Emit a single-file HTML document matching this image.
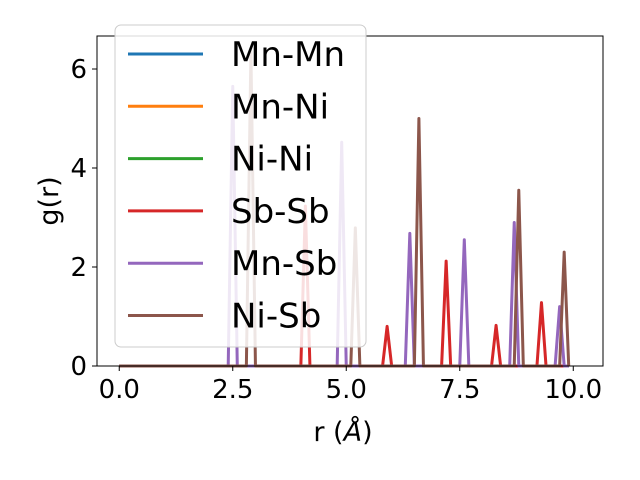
<!DOCTYPE html>
<html><head><meta charset="utf-8"><style>
body{margin:0;background:#fff}
svg{display:block;font-family:"DejaVu Sans","Liberation Sans",sans-serif}
</style></head><body>
<svg id="chart" width="640" height="480" viewBox="0 0 640 480">
<rect x="0" y="0" width="640" height="480" fill="#fff"/>
<g id="plot"></g>
<g id="axes"></g>
<g id="legend"></g>
</svg>
<script>
const seriesNames = ["Mn-Mn","Mn-Ni","Ni-Ni","Sb-Sb","Mn-Sb","Ni-Sb"];
const seriesColors = ["#1f77b4","#ff7f0e","#2ca02c","#d62728","#9467bd","#8c564b"];
const peakR_MnMn = [], peakG_MnMn = [];
const peakR_MnNi = [], peakG_MnNi = [];
const peakR_NiNi = [], peakG_NiNi = [];
const peakR_SbSb = [4.1, 5.9, 7.2, 8.3, 9.3];
const peakG_SbSb = [3.23, 0.8, 2.12, 0.82, 1.28];
const peakR_MnSb = [2.5, 4.9, 6.4, 7.6, 8.7, 9.7];
const peakG_MnSb = [5.65, 4.52, 2.68, 2.55, 2.9, 1.2];
const peakR_NiSb = [2.9, 5.2, 6.6, 8.8, 9.8];
const peakG_NiSb = [6.35, 2.79, 5.0, 3.55, 2.3];
const xTicks = [0, 2.5, 5, 7.5, 10];
const xTickLabels = ["0.0","2.5","5.0","7.5","10.0"];
const yTicks = [0, 2, 4, 6];
const yTickLabels = ["0","2","4","6"];
const rMax = 9.9, rStep = 0.1;

const NS = "http://www.w3.org/2000/svg";
const L = 97, R = 603, T = 36, B = 366;
const xMin = -0.49, xMax = 10.655, yMin = 0, yMax = 6.667;
const xs = v => L + (v - xMin) / (xMax - xMin) * (R - L);
const ys = v => B - (v - yMin) / (yMax - yMin) * (B - T);
function mk(tag, attrs, parent){const e=document.createElementNS(NS,tag);for(const k in attrs)e.setAttribute(k,attrs[k]);parent.appendChild(e);return e;}

const peaks = [[peakR_MnMn,peakG_MnMn],[peakR_MnNi,peakG_MnNi],[peakR_NiNi,peakG_NiNi],[peakR_SbSb,peakG_SbSb],[peakR_MnSb,peakG_MnSb],[peakR_NiSb,peakG_NiSb]];
const plot = document.getElementById('plot');
const n = Math.round(rMax / rStep);
peaks.forEach((p, si) => {
  const pts = [];
  for (let i = 0; i <= n; i++) {
    const r = i * rStep;
    let g = 0;
    p[0].forEach((pr, k) => { if (Math.abs(pr - r) < rStep / 2) g = p[1][k]; });
    pts.push(xs(r).toFixed(2) + "," + ys(g).toFixed(2));
  }
  const pl = mk('polyline', {points: pts.join(" "), fill: "none", stroke: seriesColors[si], "stroke-width": 3, "stroke-linejoin": "round"}, plot);
  
  
});

const axes = document.getElementById('axes');
const frame = mk('rect', {x: L, y: T, width: R - L, height: B - T, fill: "none", stroke: "#000", "stroke-width": 1}, axes);


xTicks.forEach((v, i) => {
  const t = mk('line', {x1: xs(v), x2: xs(v), y1: B, y2: B + 5, stroke: "#000"}, axes);
  
  
  const tx = mk('text', {x: xs(v), y: B + 32, "font-size": 26, "text-anchor": "middle"}, axes);
  tx.textContent = xTickLabels[i];
  
  
});
yTicks.forEach((v, i) => {
  const t = mk('line', {x1: L - 5, x2: L, y1: ys(v), y2: ys(v), stroke: "#000"}, axes);
  
  
  const tx = mk('text', {x: L - 10, y: ys(v) + 9, "font-size": 26, "text-anchor": "end"}, axes);
  tx.textContent = yTickLabels[i];
  
  
});
const xl = mk('text', {x: 343, y: 441, "font-size": 27, "text-anchor": "middle"}, axes);
xl.innerHTML = 'r (<tspan font-style="italic">Å</tspan>)';


const yl = mk('text', {x: 0, y: 0, "font-size": 27, "text-anchor": "middle", transform: "translate(58,201) rotate(-90)"}, axes);
yl.textContent = "g(r)";



const lg = document.getElementById('legend');
const box = mk('rect', {x: 115, y: 25, width: 251, height: 322, rx: 6, fill: "#fff", "fill-opacity": 0.85, stroke: "#ccc", "stroke-width": 1}, lg);


seriesNames.forEach((nm, i) => {
  const y = 54 + i * 52.3;
  const ln = mk('line', {x1: 128, x2: 203, y1: y, y2: y, stroke: seriesColors[i], "stroke-width": 3}, lg);
  
  
  const tx = mk('text', {x: 231, y: y + 12, "font-size": 34}, lg);
  tx.textContent = nm;
  
  
});
</script>
</body></html>
